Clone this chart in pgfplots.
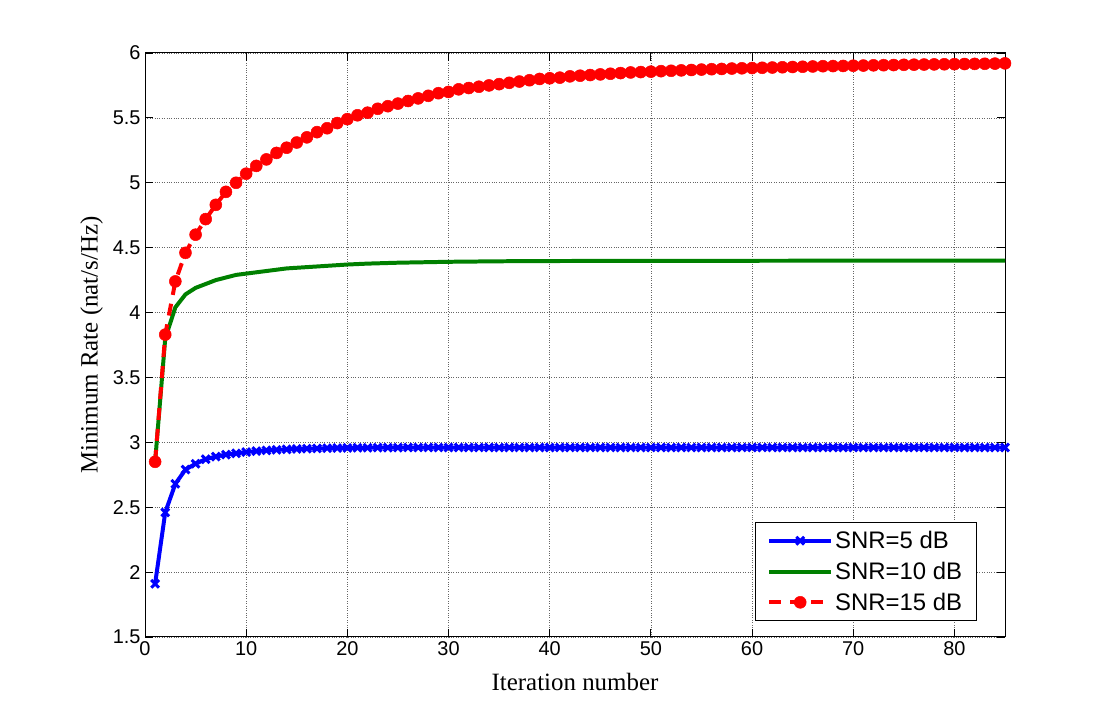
\documentclass[border=0pt]{standalone}
\usepackage{pgfplots}
\pgfplotsset{compat=1.18}
\usepackage{fontspec}
\setmainfont{Liberation Serif}
\newfontfamily\helv{Liberation Sans}
\definecolor{mblue}{RGB}{0,0,255}
\definecolor{mgreen}{RGB}{0,128,0}
\definecolor{mred}{RGB}{255,0,0}
\begin{document}
\begin{tikzpicture}[x=1bp,y=1bp]
\path[use as bounding box] (0,0) rectangle (1109,719);
\begin{axis}[
  at={(145bp,82bp)}, anchor=south west,
  scale only axis, width=860bp, height=584bp,
  xmin=0, xmax=85, ymin=1.5, ymax=6,
  xtick={0,10,...,80}, ytick={1.5,2,...,6},
  yticklabels={1.5,2,2.5,3,3.5,4,4.5,5,5.5,6},
  tick align=inside, tick pos=both,
  major tick length=8bp,
  grid=major,
  grid style={dotted, black!60, line width=0.7pt},
  axis line style={line width=1pt},
  tick style={line width=0.9pt, black},
  /pgf/number format/assume math mode=true,
  ticklabel style={font=\helv\fontsize{20}{23}\selectfont},
  xticklabel style={yshift=-1bp},
  yticklabel style={xshift=-1bp},
  xlabel={Iteration number},
  ylabel={Minimum Rate (nat/s/Hz)},
  label style={font=\fontsize{25}{28}\selectfont},
  xlabel style={yshift=-11bp},
  ylabel style={yshift=3bp},
  legend style={at={(0.967,0.027)}, anchor=south east,
    font=\helv\fontsize{24}{27}\selectfont, draw=black, line width=1pt,
    row sep=8bp, inner xsep=12bp, inner ysep=7bp},
  legend cell align=left,
  legend image code/.code={%
    \draw[mark repeat=2,mark phase=2,#1] plot coordinates {(0bp,0bp) (31bp,0bp) (62bp,0bp)};},
]
\addplot[mblue, line width=4pt, mark=x, mark size=5.5bp, mark options={line width=3pt, solid}] coordinates {
(1,1.91)(2,2.46)(3,2.68)(4,2.79)(5,2.835)(6,2.87)(7,2.89)(8,2.905)(9,2.915)(10,2.925)
(11,2.932)(12,2.938)(13,2.942)(14,2.946)(15,2.949)(16,2.951)(17,2.953)(18,2.955)(19,2.956)(20,2.957)
(21,2.958)(22,2.958)(23,2.959)(24,2.959)(25,2.959)(26,2.96)(27,2.96)(28,2.96)(29,2.96)(30,2.96)
(31,2.96)(32,2.96)(33,2.96)(34,2.96)(35,2.96)(36,2.96)(37,2.96)(38,2.96)(39,2.96)(40,2.96)
(41,2.96)(42,2.96)(43,2.96)(44,2.96)(45,2.96)(46,2.96)(47,2.96)(48,2.96)(49,2.96)(50,2.96)
(51,2.96)(52,2.96)(53,2.96)(54,2.96)(55,2.96)(56,2.96)(57,2.96)(58,2.96)(59,2.96)(60,2.96)
(61,2.96)(62,2.96)(63,2.96)(64,2.96)(65,2.96)(66,2.96)(67,2.96)(68,2.96)(69,2.96)(70,2.96)
(71,2.96)(72,2.96)(73,2.96)(74,2.96)(75,2.96)(76,2.96)(77,2.96)(78,2.96)(79,2.96)(80,2.96)
(81,2.96)(82,2.96)(83,2.96)(84,2.96)(85,2.96)
};
\addlegendentry{SNR=5 dB}
\addplot[mgreen, line width=4pt, no markers] coordinates {
(1,2.85)(2,3.80)(3,4.04)(4,4.14)(5,4.19)(6,4.22)(7,4.25)(8,4.27)(9,4.29)(10,4.30)
(11,4.31)(12,4.32)(13,4.33)(14,4.34)(15,4.345)(16,4.35)(17,4.355)(18,4.36)(19,4.365)(20,4.37)
(22,4.377)(25,4.384)(30,4.391)(35,4.395)(40,4.397)(50,4.398)(60,4.399)(85,4.40)
};
\addlegendentry{SNR=10 dB}
\addplot[mred, line width=4pt, dash pattern=on 12bp off 9bp, mark=*, mark size=6bp, mark options={solid, fill=mred, draw=mred, line width=0.5pt}] coordinates {
(1,2.85)(2,3.83)(3,4.24)(4,4.46)(5,4.60)(6,4.72)(7,4.83)(8,4.93)(9,5.00)(10,5.07)
(11,5.13)(12,5.18)(13,5.23)(14,5.27)(15,5.31)(16,5.35)(17,5.39)(18,5.42)(19,5.46)(20,5.49)
(21,5.52)(22,5.54)(23,5.57)(24,5.59)(25,5.61)(26,5.63)(27,5.65)(28,5.67)(29,5.69)(30,5.70)
(31,5.72)(32,5.73)(33,5.74)(34,5.75)(35,5.76)(36,5.77)(37,5.78)(38,5.79)(39,5.80)(40,5.805)
(41,5.81)(42,5.82)(43,5.825)(44,5.83)(45,5.835)(46,5.84)(47,5.845)(48,5.85)(49,5.853)(50,5.856)
(51,5.86)(52,5.863)(53,5.866)(54,5.869)(55,5.872)(56,5.875)(57,5.877)(58,5.88)(59,5.882)(60,5.884)
(61,5.886)(62,5.888)(63,5.89)(64,5.892)(65,5.894)(66,5.896)(67,5.898)(68,5.899)(69,5.90)(70,5.902)
(71,5.903)(72,5.905)(73,5.906)(74,5.907)(75,5.909)(76,5.91)(77,5.911)(78,5.912)(79,5.913)(80,5.914)
(81,5.915)(82,5.916)(83,5.917)(84,5.918)(85,5.92)
};
\addlegendentry{SNR=15 dB}
\end{axis}
\end{tikzpicture}
\end{document}
